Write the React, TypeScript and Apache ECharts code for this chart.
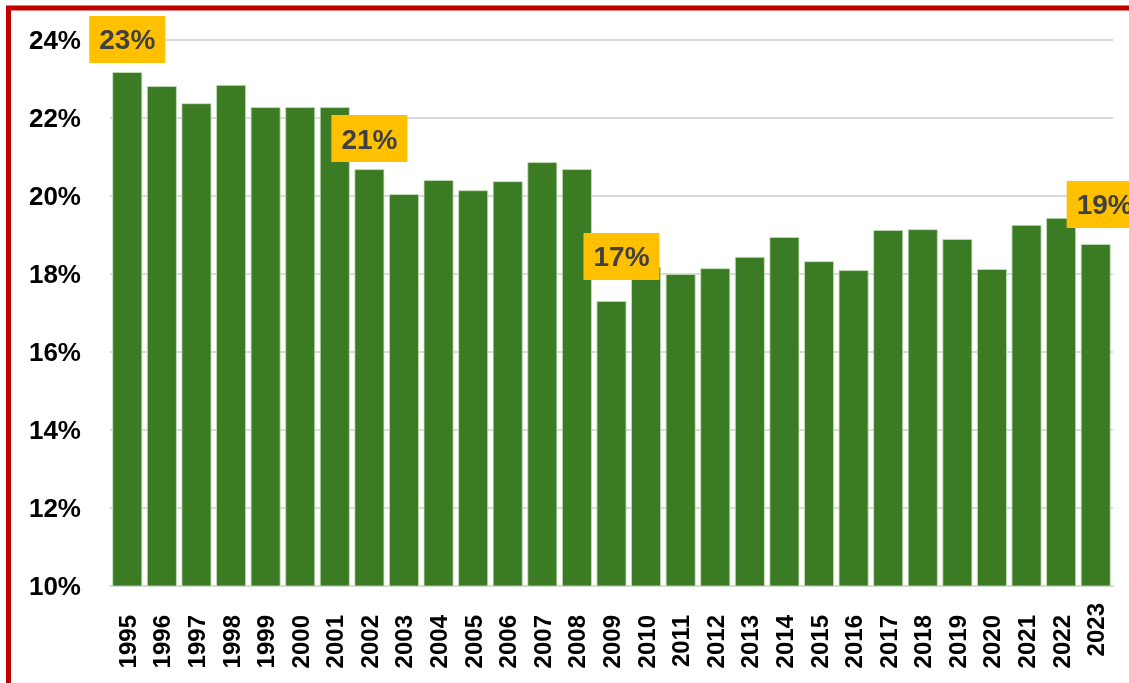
import React, { useEffect, useRef } from "react";
import * as echarts from "echarts";

const years = ["1995","1996","1997","1998","1999","2000","2001","2002","2003","2004","2005","2006","2007","2008","2009","2010","2011","2012","2013","2014","2015","2016","2017","2018","2019","2020","2021","2022","2023"];
const shares = [23.18,22.82,22.38,22.85,22.28,22.28,22.28,20.69,20.05,20.41,20.15,20.38,20.87,20.69,17.31,18.18,18.0,18.15,18.44,18.95,18.33,18.1,19.13,19.15,18.9,18.13,19.26,19.44,18.77];
const labelledYears = ["1995", "2002", "2009", "2023"];
const labelOffsets: Record<string, number[]> = { "1995": [0, -4], "2002": [0, -2], "2009": [10, -16], "2023": [9, -11] };

export default function App() {
  const ref = useRef<HTMLDivElement>(null);
  useEffect(() => {
    const chart = echarts.init(ref.current!, null, { renderer: "svg" });
    const data = shares.map((v, i) => {
      const y = years[i];
      if (!labelledYears.includes(y)) return v;
      return {
        value: v,
        label: {
          show: true,
          position: "top",
          offset: labelOffsets[y],
          formatter: (p: any) => Math.round(p.value) + "%",
          backgroundColor: "#FFC000",
          color: "#404040",
          fontFamily: "Liberation Sans, Arial, sans-serif",
          fontWeight: "bold",
          fontSize: 28,
          lineHeight: 30,
          padding: [9, 10, 8, 10],
        },
      };
    });
    chart.setOption({
      animation: false,
      grid: { left: 110, right: 16, top: 40, bottom: 97, containLabel: false },
      xAxis: {
        type: "category",
        data: years.map((y) => (y === "2023" ? { value: y, textStyle: { padding: [0, 0, 0, 0] } } : y)),
        axisLine: { lineStyle: { color: "#D9D9D9", width: 2 } },
        axisTick: { show: false },
        axisLabel: {
          rotate: 90,
          margin: 17,
          padding: [0, 12, 0, 0],
          color: "#000",
          fontFamily: "Liberation Sans, Arial, sans-serif",
          fontWeight: "bold",
          fontSize: 24,
          interval: 0,
        },
      },
      yAxis: {
        type: "value",
        min: 10,
        max: 24,
        interval: 2,
        axisLine: { show: false },
        axisTick: { show: false },
        splitLine: { lineStyle: { color: "#D9D9D9", width: 2 } },
        axisLabel: {
          formatter: "{value}%",
          margin: 29,
          color: "#000",
          fontFamily: "Liberation Sans, Arial, sans-serif",
          fontWeight: "bold",
          fontSize: 26,
        },
      },
      series: [
        {
          type: "bar",
          data,
          barCategoryGap: "13%",
          itemStyle: { color: "#3B7B24", borderColor: "rgba(200,225,190,0.8)", borderWidth: 1 },
        },
      ],
      graphic: [
        {
          type: "rect",
          shape: { x: 8.5, y: 8, width: 2000, height: 2000 },
          style: { fill: "none", stroke: "#C00000", lineWidth: 5 },
          z: 100,
        },
      ],
    });
    return () => chart.dispose();
  }, []);
  return <div ref={ref} style={{ position: "fixed", left: 0, top: 0, width: 1129, height: 683 }} />;
}
